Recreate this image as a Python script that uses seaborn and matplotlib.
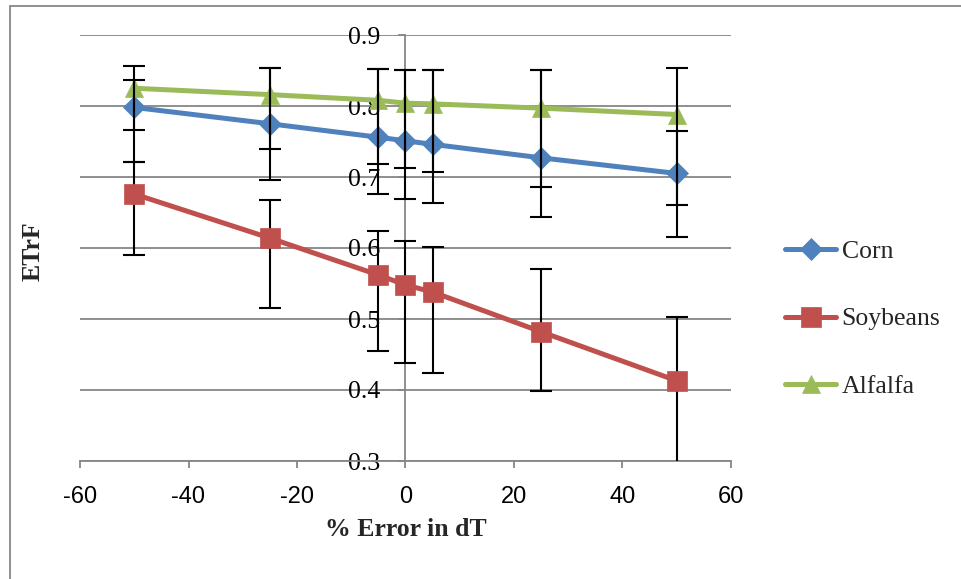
import numpy as np
import pandas as pd
import seaborn as sns
import matplotlib.pyplot as plt
from matplotlib.patches import Rectangle

# % error applied to dT and resulting ETrF per crop
error_pct = [-50, -25, -5, 0, 5, 25, 50]
corn = [0.798, 0.775, 0.756, 0.751, 0.746, 0.727, 0.705]
soybeans = [0.676, 0.614, 0.562, 0.548, 0.538, 0.482, 0.413]
alfalfa = [0.825, 0.816, 0.808, 0.804, 0.803, 0.797, 0.788]

# upper / lower ends of the error bars
corn_hi = [0.836, 0.854, 0.852, 0.851, 0.851, 0.851, 0.765]
corn_lo = [0.721, 0.696, 0.676, 0.669, 0.664, 0.643, 0.616]
soy_hi = [0.721, 0.668, 0.624, 0.610, 0.602, 0.571, 0.503]
soy_lo = [0.590, 0.516, 0.455, 0.438, 0.424, 0.398, 0.250]
alf_hi = [0.856, 0.854, 0.852, 0.851, 0.851, 0.851, 0.853]
alf_lo = [0.766, 0.740, 0.719, 0.713, 0.707, 0.686, 0.660]

x_ticks = [-60, -40, -20, 0, 20, 40, 60]
y_ticks = [0.3, 0.4, 0.5, 0.6, 0.7, 0.8, 0.9]
y_tick_labels = ["0.3", "0.4", "0.5", "0.6", "0.7", "0.8", "0.9"]

sns.set_theme(style="white")
plt.rcParams["font.family"] = ["Liberation Serif", "DejaVu Serif"]

SERIF = "Liberation Serif"
SANS = "Liberation Sans"
GRAY = "#868686"

fig = plt.figure(figsize=(9.61, 5.79), dpi=100)
ax = fig.add_axes([80 / 961, 1 - 461 / 579, 651 / 961, 426 / 579])

# outer chart frame
fig.patches.append(Rectangle((10 / 961, -0.2), 1.5, 1.2 - 6 / 579,
                             transform=fig.transFigure, fill=False,
                             edgecolor=GRAY, linewidth=1.3, zorder=0))

series = [
    ("Corn", corn, corn_lo, corn_hi, "#4F81BD", "D", 11, 2),
    ("Soybeans", soybeans, soy_lo, soy_hi, "#C0504D", "s", 14, 4),
    ("Alfalfa", alfalfa, alf_lo, alf_hi, "#9BBB59", "^", 13.5, 2),
]

for name, vals, lo, hi, color, marker, ms, z in series:
    df = pd.DataFrame({"x": error_pct, "y": vals})
    sns.lineplot(data=df, x="x", y="y", ax=ax, color=color, linewidth=3.6,
                 marker=marker, markersize=ms, markeredgecolor=color,
                 markeredgewidth=0.5, label=name, zorder=z, clip_on=True)
    v = np.array(vals)
    yerr = np.vstack([v - np.array(lo), np.array(hi) - v])
    ax.errorbar(error_pct, vals, yerr=yerr, fmt="none", ecolor="black",
                elinewidth=1.5, capsize=8, capthick=1.5, zorder=3)

# vertical axis crosses at x = 0
for s in ["top", "right"]:
    ax.spines[s].set_visible(False)
ax.spines["left"].set_position(("data", 0))
ax.spines["left"].set_color(GRAY)
ax.spines["left"].set_linewidth(1.3)
ax.spines["left"].set_zorder(1)
ax.spines["bottom"].set_color(GRAY)
ax.spines["bottom"].set_linewidth(1.3)

ax.set_xlim(-60, 60)
ax.set_ylim(0.3, 0.9)
ax.set_xticks(x_ticks)
ax.set_xticklabels([str(t) for t in x_ticks], fontfamily=SANS, fontsize=17)
ax.set_yticks(y_ticks)
ax.set_yticklabels(y_tick_labels, fontfamily=SERIF, fontsize=18.5)

ax.yaxis.grid(True, color=GRAY, linewidth=1.3)
ax.xaxis.grid(False)
ax.set_axisbelow(True)

ax.tick_params(axis="x", direction="out", length=5, width=1.3, color=GRAY,
               pad=13, labelcolor="black", bottom=True)
ax.tick_params(axis="y", direction="out", length=5, width=1.3, color=GRAY,
               pad=13, labelcolor="black", left=True)

ax.set_xlabel("")
ax.set_ylabel("")
fig.text(406 / 961, 1 - 530 / 579, "% Error in dT", ha="center", va="center",
         fontfamily=SERIF, fontweight="bold", fontsize=18.5)
fig.text(33 / 961, 1 - 251 / 579, "ETrF", ha="center", va="center",
         rotation=90, fontfamily=SERIF, fontweight="bold", fontsize=18.5)

leg = ax.legend(loc="center left", bbox_to_anchor=(785 / 961, 1 - 319 / 579),
                bbox_transform=fig.transFigure, frameon=False,
                prop={"family": SERIF, "size": 18.5}, handlelength=2.0,
                handletextpad=0.2, labelspacing=1.72, borderpad=0,
                borderaxespad=0)

fig.savefig("out.png", dpi=100)
